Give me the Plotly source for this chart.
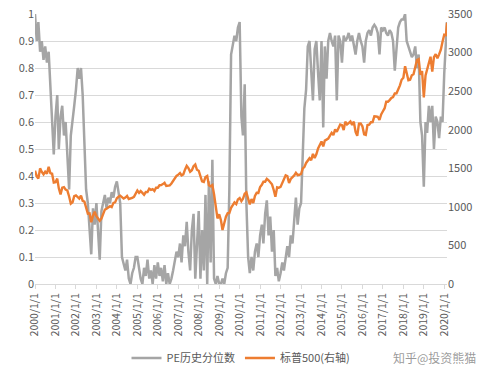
import pandas as pd
import plotly.graph_objects as go

# Monthly observation dates (first of month) plus the last data day
dates = list(pd.date_range("2000-01-01", "2020-02-01", freq="MS").strftime("%Y-%m-%d")) + ["2020-02-19"]

pe_pct = [
    # 2000
    1.0, 0.9, 0.97, 0.86, 0.9, 0.83, 0.88, 0.82, 0.86, 0.74, 0.6, 0.48,
    # 2001
    0.62, 0.7, 0.5, 0.62, 0.66, 0.55, 0.6, 0.48, 0.35, 0.55, 0.62, 0.66,
    # 2002
    0.72, 0.8, 0.76, 0.8, 0.7, 0.55, 0.35, 0.3, 0.22, 0.11, 0.28, 0.22,
    # 2003
    0.3, 0.2, 0.09, 0.27, 0.3, 0.33, 0.28, 0.32, 0.3, 0.34, 0.32, 0.36,
    # 2004
    0.38, 0.33, 0.3, 0.1, 0.08, 0.05, 0.09, 0.02, 0.0, 0.04, 0.06, 0.1,
    # 2005
    0.1, 0.05, 0.02, 0.0, 0.06, 0.03, 0.09, 0.02, 0.05, 0.0, 0.07, 0.02,
    # 2006
    0.08, 0.03, 0.06, 0.01, 0.07, 0.0, 0.04, 0.0, 0.02, 0.05, 0.09, 0.12,
    # 2007
    0.1, 0.15, 0.08, 0.18, 0.14, 0.23, 0.12, 0.05, 0.2, 0.26, 0.02, 0.15,
    # 2008
    0.27, 0.02, 0.2, 0.05, 0.33, 0.0, 0.38, 0.08, 0.46, 0.02, 0.0, 0.03,
    # 2009
    0.0, 0.0, 0.02, 0.0, 0.04, 0.06, 0.35, 0.85, 0.88, 0.92, 0.9, 0.95,
    # 2010
    0.97, 0.62, 0.55, 0.74, 0.3, 0.1, 0.04, 0.1, 0.05, 0.12, 0.15, 0.1,
    # 2011
    0.18, 0.22, 0.15, 0.26, 0.31, 0.18, 0.25, 0.12, 0.2, 0.03, 0.06, 0.01,
    # 2012
    0.04, 0.08, 0.05, 0.1, 0.14, 0.1, 0.18, 0.15, 0.25, 0.32, 0.22, 0.28,
    # 2013
    0.3, 0.48, 0.65, 0.72, 0.88, 0.9, 0.8, 0.68, 0.87, 0.9, 0.78, 0.68,
    # 2014
    0.9, 0.58, 0.88, 0.76, 0.9, 0.93, 0.9, 0.88, 0.92, 0.68, 0.92, 0.9,
    # 2015
    0.82, 0.92, 0.9, 0.91, 0.93, 0.9, 0.92, 0.88, 0.85, 0.9, 0.93, 0.9,
    # 2016
    0.88, 0.82, 0.9, 0.93, 0.94, 0.92, 0.95, 0.96, 0.95, 0.93, 0.85, 0.95,
    # 2017
    0.94, 0.95, 0.93, 0.92, 0.94, 0.93, 0.9, 0.79, 0.88, 0.95, 0.97, 0.98,
    # 2018
    0.98, 1.0, 0.9, 0.88, 0.86, 0.84, 0.85, 0.88, 0.8, 0.85, 0.6, 0.55,
    # 2019
    0.36, 0.6, 0.56, 0.66, 0.6, 0.66, 0.5, 0.62, 0.6, 0.54, 0.62, 0.6,
    # 2020
    0.78, 0.9, 0.97,
]

sp500 = [
    # 2000
    1469, 1394, 1366, 1499, 1452, 1421, 1455, 1431, 1518, 1437, 1429, 1315,
    # 2001
    1320, 1366, 1240, 1160, 1249, 1256, 1224, 1211, 1134, 1041, 1060, 1139,
    # 2002
    1148, 1130, 1107, 1147, 1077, 1067, 990, 912, 916, 800, 886, 936,
    # 2003
    880, 856, 820, 848, 917, 964, 975, 990, 1008, 996, 1051, 1058,
    # 2004
    1112, 1131, 1145, 1126, 1107, 1121, 1141, 1102, 1104, 1115, 1130, 1174,
    # 2005
    1212, 1181, 1204, 1181, 1157, 1192, 1191, 1234, 1220, 1229, 1207, 1249,
    # 2006
    1248, 1280, 1281, 1295, 1311, 1270, 1270, 1277, 1304, 1336, 1378, 1401,
    # 2007
    1418, 1438, 1407, 1421, 1482, 1531, 1503, 1455, 1474, 1527, 1549, 1481,
    # 2008
    1468, 1379, 1331, 1323, 1386, 1400, 1280, 1267, 1283, 1165, 969, 850,
    # 2009
    903, 826, 700, 798, 873, 919, 919, 987, 1021, 1057, 1036, 1096,
    # 2010
    1115, 1074, 1104, 1169, 1187, 1089, 1031, 1102, 1049, 1141, 1183, 1181,
    # 2011
    1258, 1286, 1327, 1326, 1364, 1345, 1321, 1292, 1219, 1131, 1253, 1247,
    # 2012
    1258, 1312, 1366, 1408, 1398, 1310, 1362, 1379, 1407, 1441, 1412, 1416,
    # 2013
    1426, 1498, 1515, 1569, 1598, 1631, 1606, 1686, 1633, 1682, 1757, 1806,
    # 2014
    1848, 1783, 1859, 1872, 1884, 1924, 1960, 1931, 2003, 1972, 2018, 2068,
    # 2015
    2059, 1995, 2105, 2068, 2086, 2107, 2063, 2104, 1972, 1920, 2079, 2080,
    # 2016
    2044, 1940, 1932, 2060, 2065, 2097, 2099, 2174, 2171, 2168, 2126, 2199,
    # 2017
    2239, 2279, 2364, 2363, 2384, 2412, 2423, 2470, 2472, 2519, 2575, 2648,
    # 2018
    2674, 2824, 2714, 2641, 2648, 2705, 2718, 2816, 2902, 2914, 2712, 2760,
    # 2019
    2420, 2704, 2784, 2834, 2946, 2752, 2942, 2980, 2926, 2977, 3038, 3141,
    # 2020
    3231, 3226, 3386,
]

tick_dates = [f"{y}-01-01" for y in range(2000, 2021)]
tick_labels = [f"{y}/1/1" for y in range(2000, 2021)]

series_names = ["PE历史分位数", "标普500(右轴)"]

fig = go.Figure()
fig.add_trace(go.Scatter(
    x=dates, y=pe_pct, name=series_names[0], mode="lines",
    line=dict(color="#a5a5a5", width=2.5), yaxis="y",
))
fig.add_trace(go.Scatter(
    x=dates, y=sp500, name=series_names[1], mode="lines",
    line=dict(color="#ed7d31", width=2.4), yaxis="y2",
))

font_family = "Noto Sans CJK SC, DejaVu Sans, sans-serif"
tick_color = "#595959"

fig.update_layout(
    width=492, height=378,
    margin=dict(l=35, r=45, t=14, b=94, autoexpand=False),
    paper_bgcolor="white", plot_bgcolor="white",
    font=dict(family=font_family, size=11, color=tick_color),
    showlegend=True,
    legend=dict(
        orientation="h", x=0.5, xanchor="center", y=-0.274, yanchor="middle",
        font=dict(size=11, color=tick_color), itemwidth=30,
        bgcolor="rgba(0,0,0,0)",
    ),
    xaxis=dict(
        type="date", range=["2000-01-01", "2020-02-19"],
        tickvals=tick_dates, ticktext=tick_labels, tickangle=-90,
        showgrid=False, showline=True, linecolor="#d9d9d9", linewidth=1,
        ticks="outside", ticklen=4, tickcolor="#d9d9d9",
        tickfont=dict(size=10.5, color=tick_color), automargin=False,
    ),
    yaxis=dict(
        range=[0, 1], dtick=0.1, showgrid=True, gridcolor="#d9d9d9",
        gridwidth=1, zeroline=False, showline=False, automargin=False,
        tickfont=dict(size=11, color=tick_color), ticks="",
    ),
    yaxis2=dict(
        range=[0, 3500], dtick=500, overlaying="y", side="right",
        showgrid=False, zeroline=False, showline=False, automargin=False,
        tickfont=dict(size=11, color=tick_color), ticks="",
    ),
)

fig.add_annotation(
    text="知乎@投资熊猫", xref="paper", yref="paper",
    x=1.075, y=-0.274, xanchor="right", yanchor="middle", showarrow=False,
    font=dict(size=12, color="rgba(120,120,120,0.75)", family=font_family),
)

fig.write_html(
    "out.html",
    config={"displayModeBar": False},
    post_script="document.body.style.margin='0';document.body.style.padding='0';",
)
